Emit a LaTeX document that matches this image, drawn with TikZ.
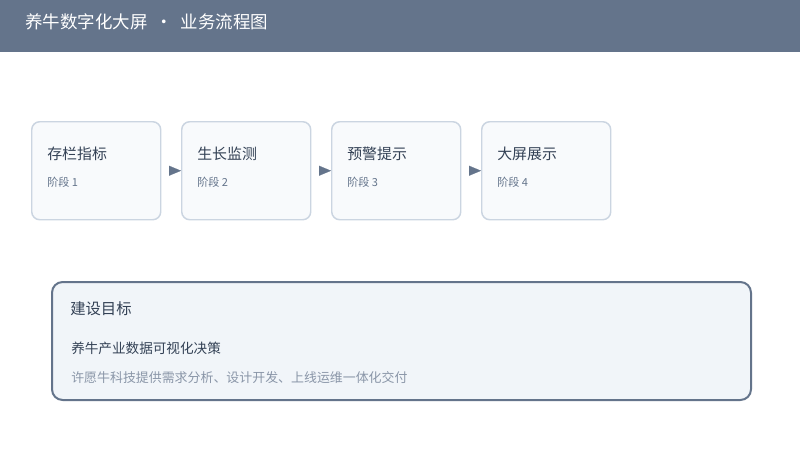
\documentclass[tikz,border=0pt]{standalone}
\usepackage{fontspec}
\setmainfont{Noto Sans CJK SC}
\usetikzlibrary{arrows.meta}
\definecolor{hdr}{HTML}{64748B}
\definecolor{dark}{HTML}{334155}
\definecolor{mid}{HTML}{64748B}
\definecolor{light}{HTML}{8A96A8}
\definecolor{boxfill}{HTML}{F8FAFC}
\definecolor{boxline}{HTML}{CBD5E1}
\definecolor{goalfill}{HTML}{F1F5F9}
\begin{document}
\begin{tikzpicture}[x=0.75pt,y=-0.75pt,
  stagebox/.style={draw=boxline,fill=boxfill,line width=1.1pt,rounded corners=6pt,minimum width=129*0.75pt,minimum height=98*0.75pt,inner sep=0pt},
  stagetitle/.style={anchor=west,inner sep=0pt,text=dark,font=\fontsize{11.2pt}{13pt}\selectfont},
  stagesub/.style={anchor=west,inner sep=0pt,text=mid,font=\fontsize{8.3pt}{10pt}\selectfont},
  flow/.style={draw=mid,line width=0.1pt,shorten <=7.5*0.75pt,-{Triangle[length=9pt,width=7.5pt]},mid}
]
\useasboundingbox (0,0) rectangle (800,450);
\fill[white] (0,0) rectangle (800,450);
\fill[hdr] (0,0) rectangle (800,52);
\node[anchor=west,inner sep=0pt,text=white,font=\fontsize{13.1pt}{15pt}\selectfont] (title) at (25,22) {养牛数字化大屏\ \ ·\ \ 业务流程图};

\foreach \i/\x/\t in {1/31/存栏指标,2/181/生长监测,3/331/预警提示,4/481/大屏展示}{
  \node[stagebox,anchor=north west] (b\i) at (\x,121) {};
  \node[stagetitle] (t\i) at (\x+16,154) {\t};
  \node[stagesub] (s\i) at (\x+16,182) {阶段 \i};
}
\draw[flow] (b1.east) -- (b2.west);
\draw[flow] (b2.east) -- (b3.west);
\draw[flow] (b3.east) -- (b4.west);

\node[draw=mid,fill=goalfill,line width=1.5pt,rounded corners=8pt,anchor=north west,minimum width=699*0.75pt,minimum height=118*0.75pt,inner sep=0pt] (goal) at (51,281) {};
\node[anchor=west,inner sep=0pt,text=dark,font=\fontsize{11.5pt}{13pt}\selectfont] (g1) at (70,309) {建设目标};
\node[anchor=west,inner sep=0pt,text=dark,font=\fontsize{10.2pt}{12pt}\selectfont] (g2) at (71,348) {养牛产业数据可视化决策};
\node[anchor=west,inner sep=0pt,text=light,font=\fontsize{9.7pt}{12pt}\selectfont] (g3) at (71,378) {许愿牛科技提供需求分析、设计开发、上线运维一体化交付};
\end{tikzpicture}
\end{document}
